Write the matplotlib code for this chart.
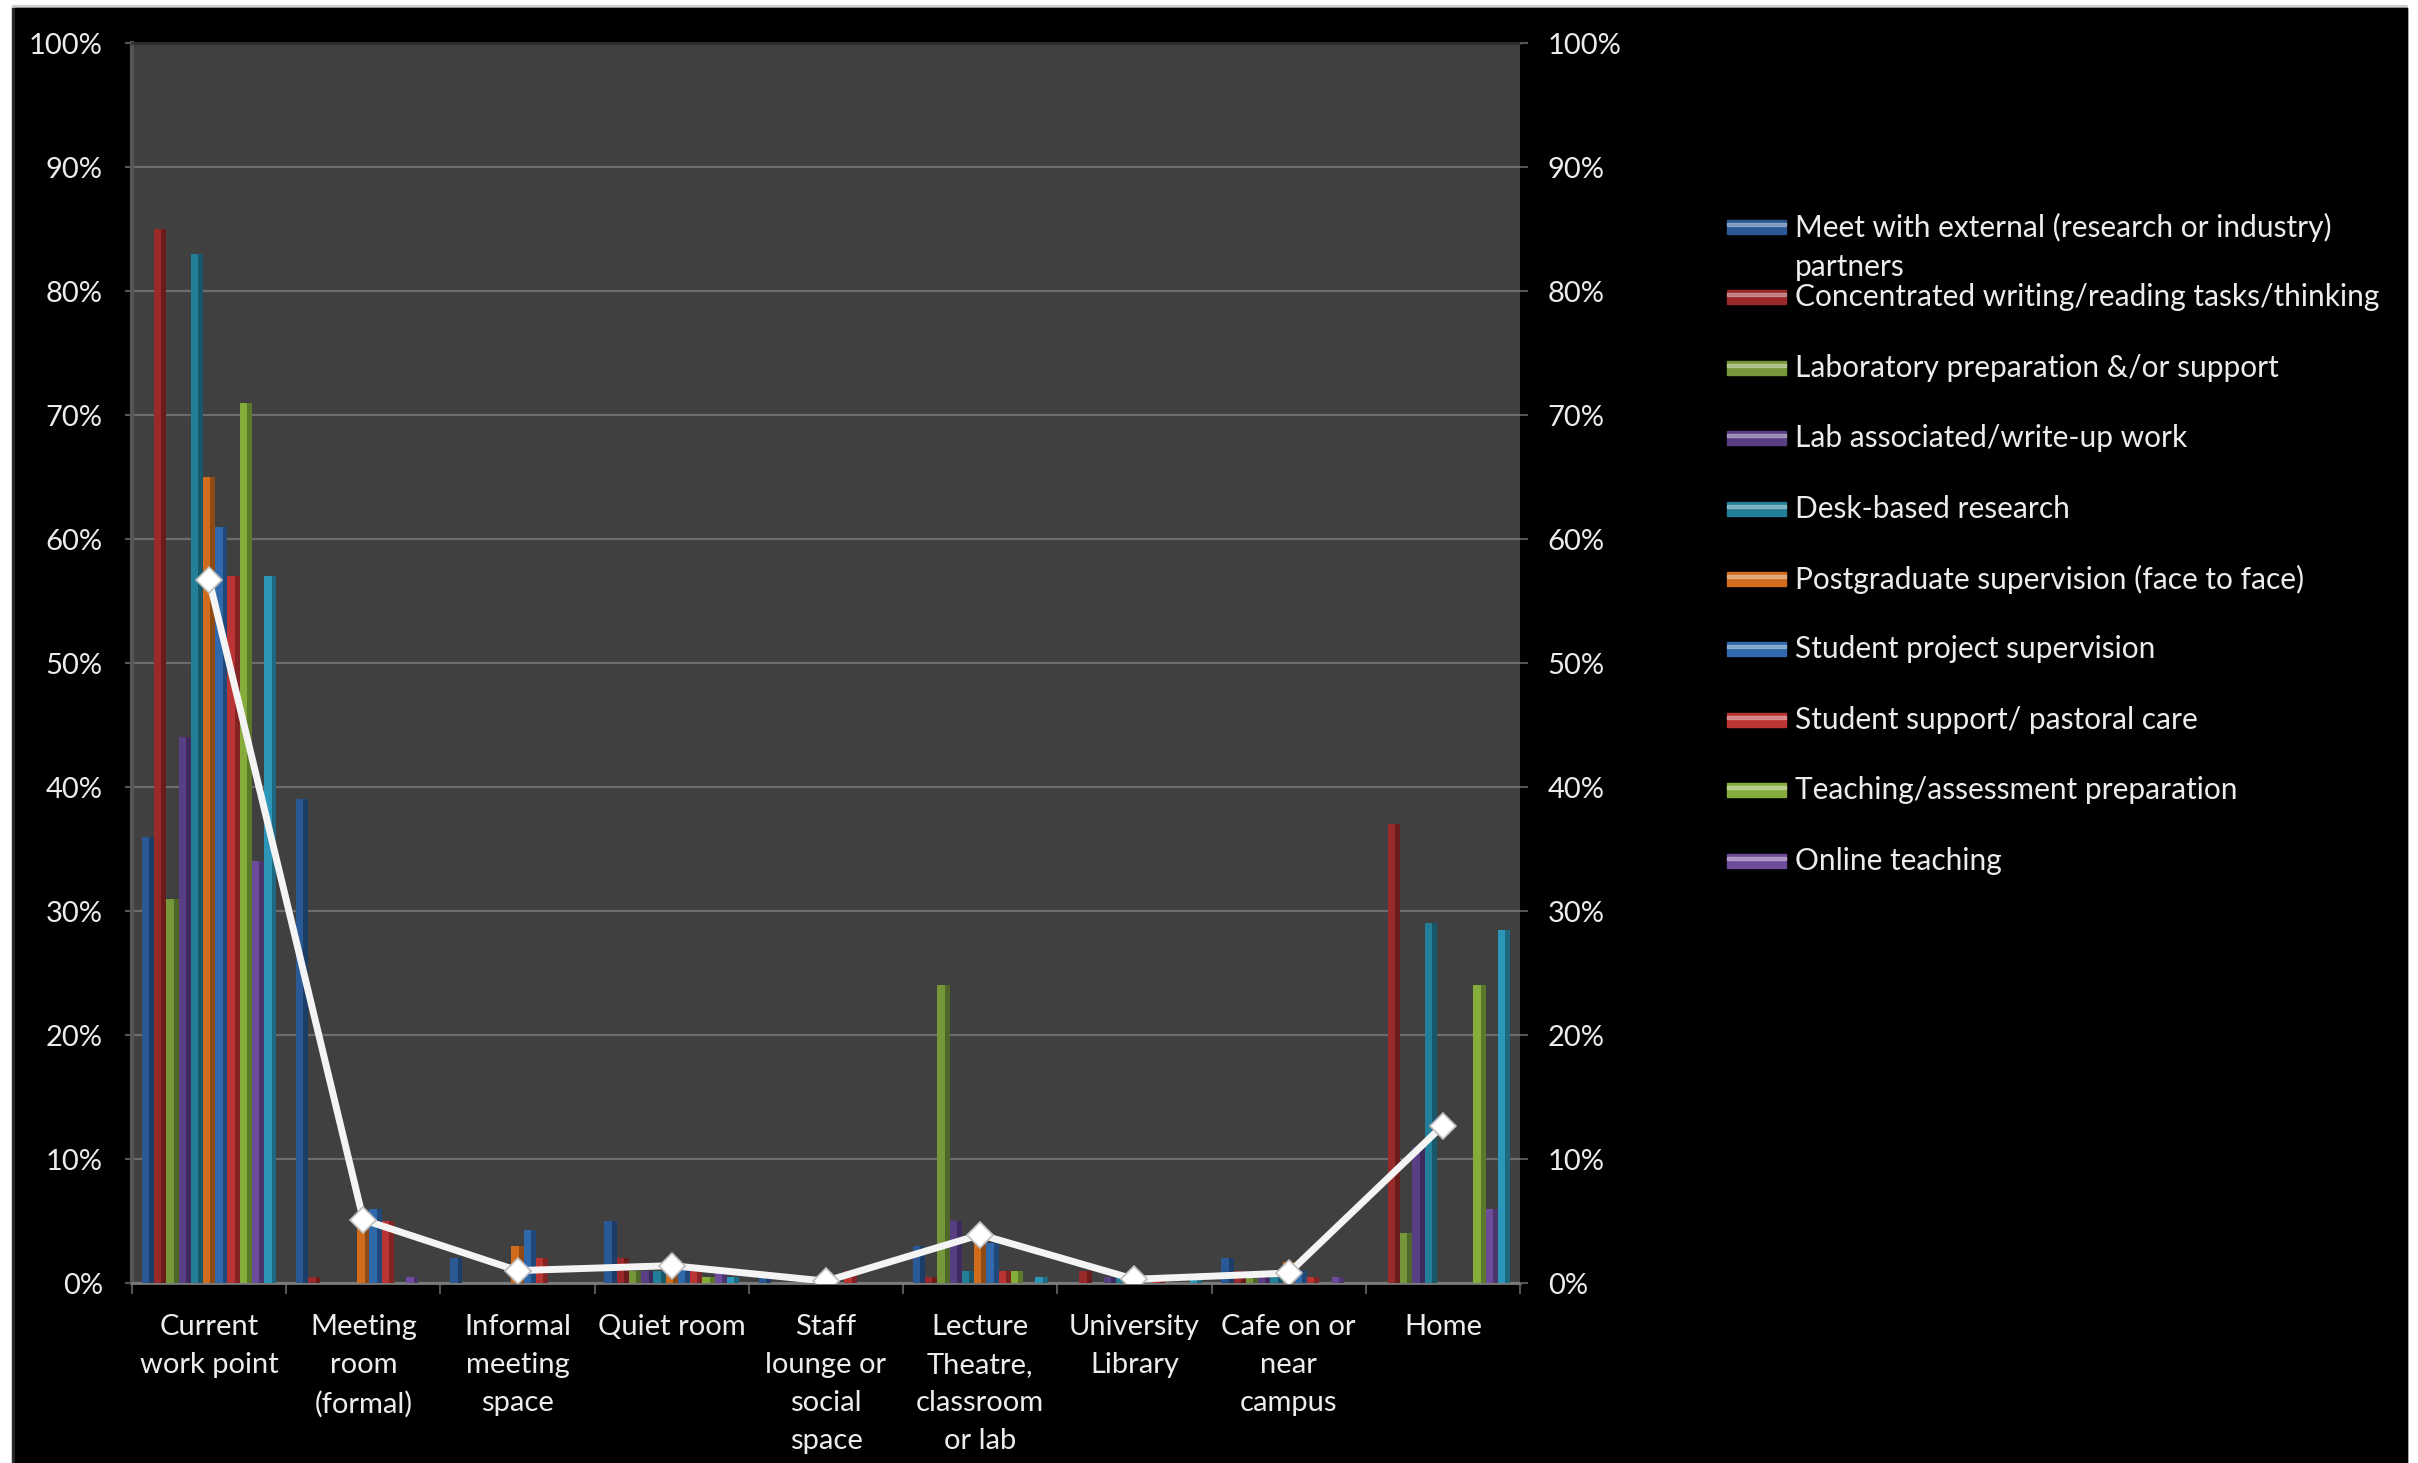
import numpy as np
import matplotlib.pyplot as plt
from matplotlib.patches import Rectangle
from matplotlib.ticker import FixedLocator

# Work locations (x axis) and activities (one bar series each)
locations = [
    "Current\nwork point", "Meeting\nroom\n(formal)", "Informal\nmeeting\nspace",
    "Quiet room", "Staff\nlounge or\nsocial\nspace", "Lecture\nTheatre,\nclassroom\nor lab",
    "University\nLibrary", "Cafe on or\nnear\ncampus", "Home",
]
activities = [
    "Meet with external (research or industry) partners",
    "Concentrated writing/reading tasks/thinking",
    "Laboratory preparation &/or support",
    "Lab associated/write-up work",
    "Desk-based research",
    "Postgraduate supervision (face to face)",
    "Student project supervision",
    "Student support/ pastoral care",
    "Teaching/assessment preparation",
    "Online teaching",
    "Other",
]

# % of respondents, one list per activity, ordered as locations
meet_external   = [36, 39, 2, 5, 0.5, 3, 0, 2, 0]
concentrated    = [85, 0.5, 0, 2, 0, 0.5, 1, 1, 37]
lab_prep        = [31, 0, 0, 1, 0, 24, 0, 0.5, 4]
lab_writeup     = [44, 0, 0, 1, 0, 5, 0.5, 0.5, 11]
desk_research   = [83, 0, 0, 1, 0, 1, 0.5, 1, 29]
pg_supervision  = [65, 4.5, 3, 1, 0, 4, 0, 1.7, 0]
student_project = [61, 6, 4.3, 1.5, 0, 3.2, 0, 1, 0]
student_support = [57, 5, 2, 1, 1, 1, 0.5, 0.5, 0]
teaching_prep   = [71, 0, 0, 0.5, 0, 1, 0, 0, 24]
online_teaching = [34, 0.5, 0, 1, 0, 0, 0, 0.5, 6]
other_activity  = [57, 0, 0, 0.5, 0, 0.5, 0.5, 0, 28.5]

series = [meet_external, concentrated, lab_prep, lab_writeup, desk_research,
          pg_supervision, student_project, student_support, teaching_prep,
          online_teaching, other_activity]

# average across activities (white line)
average = [56.7, 5.1, 1.0, 1.4, 0.15, 3.9, 0.3, 0.8, 12.7]

fills = ['#2a5996', '#9a2a2a', '#76963a', '#5a3e84', '#237f98', '#d06c1c',
         '#3068ac', '#bb3434', '#86ac3c', '#6e4c9c', '#2c96b8']
shades = ['#1c3d68', '#6a1c1c', '#50672a', '#3e2a5c', '#18586a', '#8e4a14',
          '#204878', '#822424', '#5c782a', '#4c346c', '#1e6880']
TEXT = '#ececec'
FONT = 'Lato'
FS = 21

W, H = 2418, 1463
fig = plt.figure(figsize=(W / 100, H / 100), dpi=100, facecolor='white')

# black chart frame with thin grey strip on top and left
for x0, top_px, col in [(12, 5, '#cfcfcf'), (12, 8, '#2a2a2e'), (15, 8, 'black')]:
    fig.patches.append(Rectangle((x0 / W, 0), (2407 - x0) / W, 1 - top_px / H,
                                 transform=fig.transFigure, color=col, zorder=-10))

left, right, bottom, top = 132, 1520, 1283, 43
ax = fig.add_axes([left / W, 1 - bottom / H, (right - left) / W, (bottom - top) / H])
ax.set_facecolor('#404040')

x = np.arange(len(locations))
n = len(series)
w = 1 / (n + 1.6)
for i, vals in enumerate(series):
    pos = x + (i - (n - 1) / 2) * w
    ax.bar(pos, vals, width=w, color=fills[i], linewidth=0, zorder=3)
    # darker strip on the right side gives the bevelled look
    ax.bar(pos + w * 0.3, vals, width=w * 0.4, color=shades[i], linewidth=0, zorder=3)

ax.set_xlim(-0.5, len(locations) - 0.5)
ax.set_ylim(0, 100)
ax.set_yticks(np.arange(0, 101, 10))
ax.set_yticklabels([f"{v}%" for v in range(0, 101, 10)])
ax.grid(axis='y', color='#6c6c6c', linewidth=1.6, zorder=1)
ax.set_axisbelow(True)
ax.set_xticks(x)
ax.set_xticklabels(locations, linespacing=1.58, va='top')
ax.xaxis.set_minor_locator(FixedLocator(np.arange(-0.5, len(locations), 1.0)))
ax.tick_params(axis='x', which='major', length=0, pad=22, colors=TEXT, labelsize=FS)
ax.tick_params(axis='x', which='minor', length=8, width=1.5, color='#555555')
ax.tick_params(axis='y', length=5, width=1.5, color='#555555', pad=16,
               labelcolor=TEXT, labelsize=FS)
for lab in ax.get_xticklabels() + ax.get_yticklabels():
    lab.set_family(FONT)
ax.spines['bottom'].set_color('#7c7c7c')
ax.spines['bottom'].set_linewidth(2)
ax.spines['left'].set_color('#555555')
ax.spines['left'].set_linewidth(3)
ax.spines['top'].set_color('#2e2e2e')
ax.spines['top'].set_linewidth(2)
ax.spines['right'].set_visible(False)

ax2 = ax.twinx()
ax2.set_ylim(0, 100)
ax2.set_yticks(np.arange(0, 101, 10))
ax2.set_yticklabels([f"{v}%" for v in range(0, 101, 10)])
ax2.tick_params(axis='y', length=6, width=1.5, color='#555555', pad=14,
                labelcolor=TEXT, labelsize=FS)
for lab in ax2.get_yticklabels():
    lab.set_family(FONT)
for s in ax2.spines.values():
    s.set_visible(False)
ax2.plot(x, average, color='#f4f4f4', linewidth=5, marker='D', markersize=13,
         markerfacecolor='white', markeredgecolor='#bdbdbd', markeredgewidth=1.2,
         zorder=5)

# legend drawn by hand: ten visible entries, evenly spaced
leg_x0, leg_x1, txt_x = 1727, 1786, 1795
row0, step = 227, 70.4
for i in range(10):
    yc = row0 + i * step
    fig.patches.append(Rectangle((leg_x0 / W, 1 - (yc + 7) / H), (leg_x1 - leg_x0) / W, 14 / H,
                                 transform=fig.transFigure, color=fills[i], zorder=2))
    fig.patches.append(Rectangle((leg_x0 / W, 1 - (yc - 1) / H), (leg_x1 - leg_x0) / W, 3 / H,
                                 transform=fig.transFigure, color='white', alpha=0.35, zorder=3))
    label = activities[i]
    if i == 0:
        fig.text(txt_x / W, 1 - yc / H, "Meet with external (research or industry)",
                 color=TEXT, fontsize=21.5, family=FONT, va='center', ha='left')
        fig.text(txt_x / W, 1 - (yc + 40) / H, "partners",
                 color=TEXT, fontsize=21.5, family=FONT, va='center', ha='left')
    else:
        fig.text(txt_x / W, 1 - yc / H, label, color=TEXT, fontsize=21.5,
                 family=FONT, va='center', ha='left')

fig.savefig('out.png', dpi=100, facecolor=fig.get_facecolor())
